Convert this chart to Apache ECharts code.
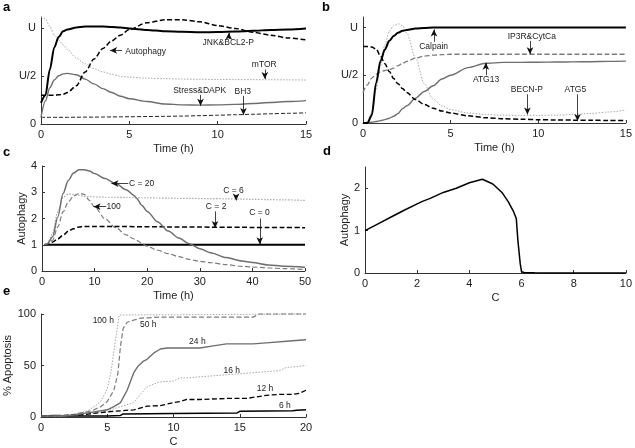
<!DOCTYPE html>
<html>
<head>
<meta charset="utf-8">
<script src="https://cdn.jsdelivr.net/npm/echarts@6/dist/echarts.min.js"></script>
<style>
html,body{margin:0;padding:0;background:#fff;}
#chart{width:635px;height:448px;}
</style>
</head>
<body>
<div id="chart"></div>
<script>
// ---------- Panel a ----------
const aTime = [0,0.25,0.5,0.75,1,1.25,1.5,2,2.5,3,3.5,4,4.5,5,6,7,8,9,10,11,12,13,14,15];
const aJNK = [0.22,0.30,0.57,0.80,0.91,0.97,0.99,1.01,1.02,1.02,1.02,1.015,1.01,1.0,0.985,0.97,0.965,0.96,0.962,0.968,0.975,0.985,0.99,1.0];
const aAutophagy = [0.30,0.30,0.30,0.30,0.305,0.31,0.33,0.40,0.545,0.68,0.79,0.87,0.93,0.99,1.06,1.09,1.09,1.07,1.03,1.0,0.96,0.93,0.9,0.88];
const aMTOR = [1.12,1.10,1.02,0.93,0.88,0.83,0.78,0.69,0.63,0.58,0.545,0.52,0.50,0.49,0.48,0.475,0.47,0.468,0.466,0.465,0.464,0.463,0.462,0.46];
const aStress = [0.07,0.24,0.38,0.46,0.505,0.525,0.53,0.515,0.47,0.42,0.37,0.33,0.29,0.265,0.235,0.21,0.2,0.198,0.2,0.205,0.215,0.225,0.235,0.245];
const aBH3 = [0.07,0.07,0.07,0.07,0.07,0.07,0.07,0.071,0.072,0.072,0.073,0.074,0.075,0.076,0.078,0.08,0.083,0.087,0.092,0.097,0.102,0.107,0.112,0.117];

// ---------- Panel b ----------
const bTime = [0,0.25,0.5,0.75,1,1.25,1.5,1.75,2,2.25,2.5,3,3.5,4,4.5,5,6,7,8,9,10,11,12,13,14,15];
const bCalpain = [0,0,0.08,0.42,0.65,0.77,0.86,0.91,0.945,0.965,0.975,0.99,0.995,1,1,1,1,1,1,1,1,1,1,1,1,1];
const bATG5 = [0.8,0.8,0.795,0.775,0.70,0.62,0.54,0.465,0.41,0.36,0.32,0.245,0.195,0.155,0.125,0.105,0.075,0.055,0.045,0.04,0.035,0.032,0.03,0.028,0.027,0.026];
const bIP3R = [0.32,0.40,0.47,0.51,0.535,0.55,0.56,0.575,0.60,0.625,0.645,0.68,0.70,0.71,0.715,0.72,0.72,0.72,0.72,0.72,0.72,0.72,0.72,0.72,0.72,0.72];
const bBECN = [0,0.01,0.12,0.35,0.60,0.82,0.96,1.02,1.04,1.02,0.94,0.68,0.41,0.25,0.18,0.14,0.105,0.09,0.082,0.08,0.08,0.082,0.09,0.10,0.115,0.135];
const bATG13 = [0,0.003,0.008,0.015,0.025,0.035,0.05,0.07,0.10,0.15,0.18,0.26,0.33,0.39,0.46,0.50,0.58,0.625,0.635,0.635,0.636,0.638,0.64,0.642,0.645,0.648];

// ---------- Panel c ----------
const cTime = [0.5,1,2,3,4,5,6,7,8,9,10,12,14,16,17.5,18,19,20,22,24,26,28,30,32,35,38,40,43,46,50];
const cC20 = [1,1.03,1.3,2.06,2.95,3.45,3.73,3.86,3.86,3.81,3.71,3.52,3.33,3.1,2.88,2.76,2.5,2.27,1.87,1.52,1.26,1.04,0.85,0.7,0.51,0.38,0.32,0.23,0.18,0.14];
const cC6 = [1,1.03,1.42,2.25,2.8,2.93,2.92,2.88,2.84,2.83,2.82,2.81,2.81,2.8,2.8,2.8,2.79,2.79,2.78,2.78,2.77,2.77,2.76,2.76,2.75,2.74,2.73,2.72,2.71,2.69];
const cC100 = [1,1.02,1.17,1.68,2.25,2.63,2.86,2.95,2.92,2.69,2.44,1.99,1.65,1.38,1.22,1.17,1.05,0.94,0.79,0.66,0.55,0.44,0.37,0.32,0.24,0.18,0.15,0.12,0.09,0.06];
const cC2 = [1,1.01,1.1,1.22,1.36,1.52,1.61,1.68,1.7,1.7,1.7,1.7,1.7,1.7,1.69,1.69,1.69,1.69,1.69,1.68,1.68,1.68,1.68,1.67,1.67,1.67,1.66,1.66,1.66,1.65];
const cC0 = [1,1,1,1,1,1,1,1,1,1,1,1,1,1,1,1,1,1,1,1,1,1,1,1,1,1,1,1,1,1];

// ---------- Panel d ----------
const dC = [0,0.5,1,1.5,2,2.2,2.5,3,3.5,4,4.5,4.9,5.25,5.5,5.7,5.8,5.86,5.95,6,6.1,6.5,7,8,9,10];
const dAutophagy = [1.0,1.16,1.32,1.48,1.63,1.69,1.76,1.9,2.0,2.13,2.21,2.1,1.9,1.67,1.44,1.28,0.77,0.22,0.03,0.01,0.005,0,0,0,0];

// ---------- Panel e ----------
const e100C = [0,1,2,2.5,3,3.5,4,4.5,5,5.3,5.6,5.9,6,20];
const e100P = [1,1,1.5,3,4,6,10,15,27,45,73,99,100,100];
const e50C = [0,1,2,2.5,3,3.5,4,4.5,5,5.5,5.8,6,6.2,6.5,7,7.5,9,16,16.5,20];
const e50P = [1,1,1.5,2.5,4,5,7,10,15,26,42,69,86,92,94,96,97,97,100,100];
const e24C = [0,1,2,2.5,3,4,5,5.5,6,6.5,7,7.3,7.7,8,8.5,9,9.5,12,13,14,16,17,19,20];
const e24P = [1,1,1.5,2,3,5,7,10,14,26,43,49,54,56,62,66,67,67,69,71,71,72,74,75];
const e16C = [0,2,3,4,5,6,7,7.5,8,8.5,9,10,10.5,11,12,13,14,15,16,17,18,18.5,20];
const e16P = [1,1.5,3,4,6,10,14,22,29,32,34,35,38,38,39,40,41,42,43,44,45,48,50];
const e12C = [0,3,5,6,7,8,9,10,10.5,11,12,14,15.5,16,17,18,19,19.5,20];
const e12P = [1,2,5,6,7,10.5,11,14,15,17,17,18,18,19,21,22,22,23,26];
const e6C = [0,1,2,5,6,6.2,10,14.8,15,19,19.3,20];
const e6P = [1,1.5,1,1,1.5,3,3.5,4,5.5,6,6.5,7];

// tick labels
const uTickValues = [0,0.5,1];
const uTickLabels = ['0','U/2','U'];
const dTicks = [0,1,2];

// annotations: text, text position, arrow start, arrow tip (data coords)
const aNotes = [
  {text:'Autophagy', tx:5.92, ty:0.76, sx:4.59, sy:0.77, ex:3.91, ey:0.77},
  {text:'JNK&BCL2-P', tx:10.6, ty:0.85, sx:10.63, sy:0.89, ex:10.63, ey:0.955},
  {text:'mTOR', tx:12.64, ty:0.62, sx:12.67, sy:0.57, ex:12.67, ey:0.47},
  {text:'Stress&DAPK', tx:8.98, ty:0.35, sx:9.03, sy:0.305, ex:9.03, ey:0.19},
  {text:'BH3', tx:11.42, ty:0.34, sx:11.46, sy:0.295, ex:11.46, ey:0.095}
];
const bNotes = [
  {text:'Calpain', tx:4.03, ty:0.8, sx:4.05, sy:0.85, ex:4.05, ey:0.98},
  {text:'IP3R&CytCa', tx:9.63, ty:0.905, sx:9.53, sy:0.86, ex:9.53, ey:0.72},
  {text:'ATG13', tx:7.02, ty:0.45, sx:7.01, sy:0.5, ex:7.01, ey:0.63},
  {text:'BECN-P', tx:9.35, ty:0.35, sx:9.38, sy:0.3, ex:9.38, ey:0.09},
  {text:'ATG5', tx:12.12, ty:0.35, sx:12.24, sy:0.3, ex:12.24, ey:0.02}
];
const cNotes = [
  {text:'C = 20', tx:18.95, ty:3.32, sx:16.4, sy:3.33, ex:13.2, ey:3.33},
  {text:'C = 6', tx:36.4, ty:3.05, sx:36.9, sy:2.88, ex:36.9, ey:2.69},
  {text:'100', tx:13.6, ty:2.44, sx:12.2, sy:2.45, ex:9.8, ey:2.45},
  {text:'C = 2', tx:33.1, ty:2.44, sx:32.9, sy:2.27, ex:32.9, ey:1.64},
  {text:'C = 0', tx:41.36, ty:2.21, sx:41.4, sy:2.0, ex:41.4, ey:1.02}
];
const eNotes = [
  {text:'100 h', tx:4.7, ty:94},
  {text:'50 h', tx:8.1, ty:90},
  {text:'24 h', tx:11.8, ty:73.5},
  {text:'16 h', tx:14.4, ty:45},
  {text:'12 h', tx:16.9, ty:28},
  {text:'6 h', tx:18.4, ty:11}
];

const FONT = 'Liberation Sans, Arial, sans-serif';
const zip = (xs, ys) => xs.map((x, i) => [x, ys[i]]);

const BLACK = '#000000', GRAY = '#6e6e6e', GRAYD = '#7c7c7c', LIGHT = '#a8a8a8';

function line(idx, xs, ys, color, width, type, smooth) {
  return {
    type: 'line', xAxisIndex: idx, yAxisIndex: idx,
    data: zip(xs, ys), showSymbol: false, symbol: 'none',
    smooth: smooth === undefined ? 0.3 : smooth, smoothMonotone: 'x',
    lineStyle: {color: color, width: width, type: type},
    clip: false, z: 3
  };
}

function withNotes(series, notes) {
  series.markLine = {
    silent: true, animation: false, symbol: ['none', 'arrow'], symbolSize: [5, 7],
    lineStyle: {color: '#111', width: 0.8, type: 'solid'},
    label: {show: false},
    data: notes.filter(n => n.sx !== undefined).map(n => [{coord: [n.sx, n.sy]}, {coord: [n.ex, n.ey]}])
  };
  series.markPoint = {
    silent: true, animation: false, symbol: 'circle', symbolSize: 1,
    itemStyle: {color: 'rgba(0,0,0,0)'},
    label: {show: true, position: 'inside', formatter: '{b}', color: '#222', fontSize: 8.5, fontFamily: FONT, fontWeight: 'normal'},
    data: notes.map(n => ({name: n.text, coord: [n.tx, n.ty]}))
  };
  return series;
}

const grids = [
  {left: 41, top: 17, width: 265, height: 107},
  {left: 363, top: 17, width: 268, height: 106},
  {left: 42, top: 166, width: 263, height: 105},
  {left: 365, top: 167, width: 263, height: 106},
  {left: 41, top: 314, width: 265, height: 104}
];

const nameStyle = {fontFamily: FONT, fontSize: 11, color: '#222', fontWeight: 400, textBorderWidth: 0, textShadowBlur: 0};
const labelStyle = {fontFamily: FONT, fontSize: 11, color: '#222', margin: 5, fontWeight: 400};
const tickStyle = {show: true, inside: true, length: 3, lineStyle: {color: '#333'}};

function xAx(idx, max, interval, name) {
  return {
    type: 'value', gridIndex: idx, min: 0, max: max, interval: interval,
    name: name, nameLocation: 'middle', nameGap: 19,
    nameTextStyle: nameStyle,
    axisLine: {show: true, lineStyle: {color: '#333', width: 1}},
    axisTick: tickStyle,
    axisLabel: labelStyle,
    splitLine: {show: false}
  };
}
function yAx(idx, max, interval, name, extra) {
  const o = {
    type: 'value', gridIndex: idx, min: 0, max: max, interval: interval,
    name: name, nameLocation: 'middle', nameGap: 12, nameRotate: 90,
    nameTextStyle: nameStyle,
    axisLine: {show: true, lineStyle: {color: '#333', width: 1}},
    axisTick: tickStyle,
    axisLabel: Object.assign({showMaxLabel: true}, labelStyle),
    splitLine: {show: false}
  };
  return Object.assign(o, extra || {});
}

const uAxisExtra = () => ({
  axisLabel: Object.assign({customValues: uTickValues,
    formatter: v => { const i = uTickValues.indexOf(v); return i >= 0 ? uTickLabels[i] : ''; }}, labelStyle),
  axisTick: Object.assign({customValues: uTickValues}, tickStyle)
});

const option = {
  animation: false,
  backgroundColor: '#fff',
  textStyle: {fontFamily: FONT, fontWeight: 'normal'},
  grid: grids,
  xAxis: [
    xAx(0, 15, 5, 'Time (h)'),
    xAx(1, 15, 5, 'Time (h)'),
    xAx(2, 50, 10, 'Time (h)'),
    xAx(3, 10, 2, 'C'),
    xAx(4, 20, 5, 'C')
  ],
  yAxis: [
    yAx(0, 1.12, 0.5, '', uAxisExtra()),
    yAx(1, 1.11, 0.5, '', uAxisExtra()),
    yAx(2, 4, 1, 'Autophagy'),
    yAx(3, 2.5, 1, 'Autophagy', {
      axisLabel: Object.assign({customValues: dTicks}, labelStyle),
      axisTick: Object.assign({customValues: dTicks}, tickStyle)
    }),
    yAx(4, 100, 50, '% Apoptosis', {nameGap: 24})
  ],
  series: [
    // a
    withNotes(line(0, aTime, aBH3, '#222', 1, [4, 2]), aNotes),
    line(0, aTime, aMTOR, LIGHT, 1, [1.5, 1.5]),
    line(0, aTime, aStress, GRAY, 1.4, 'solid'),
    line(0, aTime, aAutophagy, BLACK, 1.5, [5, 2.5]),
    line(0, aTime, aJNK, BLACK, 2, 'solid'),
    // b
    withNotes(line(1, bTime, bATG13, GRAY, 1.4, 'solid'), bNotes),
    line(1, bTime, bBECN, LIGHT, 1, [1.5, 1.5]),
    line(1, bTime, bIP3R, GRAYD, 1.3, [5, 2.5]),
    line(1, bTime, bATG5, BLACK, 1.5, [5, 2.5]),
    line(1, bTime, bCalpain, BLACK, 2, 'solid'),
    // c
    withNotes(line(2, cTime, cC0, BLACK, 2, 'solid', false), cNotes),
    line(2, cTime, cC6, LIGHT, 1.2, [1.5, 1.5]),
    line(2, cTime, cC100, GRAYD, 1.2, [5, 2.5]),
    line(2, cTime, cC2, BLACK, 1.5, [5, 2.5]),
    line(2, cTime, cC20, GRAY, 1.5, 'solid'),
    // d
    line(3, dC, dAutophagy, BLACK, 1.5, 'solid', false),
    // e
    withNotes(line(4, e6C, e6P, BLACK, 1.5, 'solid', false), eNotes),
    line(4, e100C, e100P, LIGHT, 1, [1.5, 1.5], false),
    line(4, e16C, e16P, LIGHT, 1, [1.5, 1.5], false),
    line(4, e50C, e50P, GRAYD, 1.2, [5, 2.5], false),
    line(4, e12C, e12P, BLACK, 1.3, [5, 2.5], false),
    line(4, e24C, e24P, GRAY, 1.4, 'solid', false)
  ],
  graphic: [
    {type: 'text', left: 3, top: 1, style: {text: 'a', font: 'bold 13px ' + FONT, fill: '#000'}},
    {type: 'text', left: 322, top: 1, style: {text: 'b', font: 'bold 13px ' + FONT, fill: '#000'}},
    {type: 'text', left: 3, top: 146, style: {text: 'c', font: 'bold 13px ' + FONT, fill: '#000'}},
    {type: 'text', left: 323, top: 145, style: {text: 'd', font: 'bold 13px ' + FONT, fill: '#000'}},
    {type: 'text', left: 3, top: 285, style: {text: 'e', font: 'bold 13px ' + FONT, fill: '#000'}}
  ]
};

const chart = echarts.init(document.getElementById('chart'), null, {renderer: 'canvas'});
chart.setOption(option);
</script>
</body>
</html>
